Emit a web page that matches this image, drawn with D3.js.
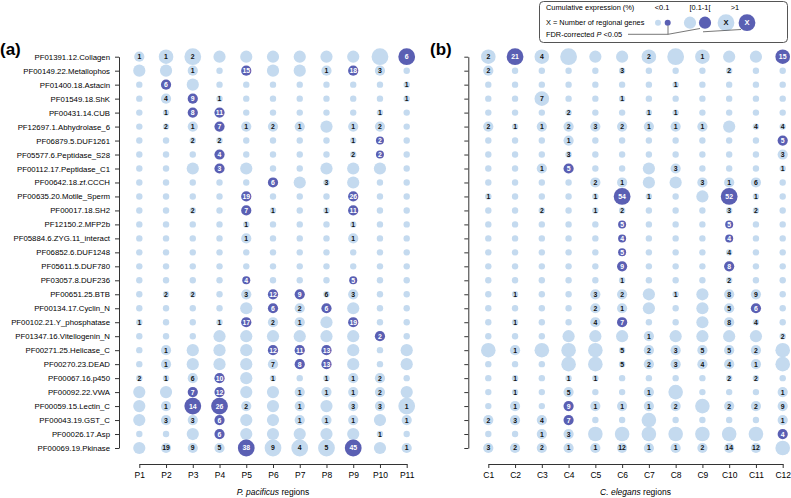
<!DOCTYPE html>
<html lang="en">
<head>
<meta charset="UTF-8">
<script src="https://d3js.org/d3.v7.min.js"></script>
<title></title>
<style>
  body { margin: 0; background: #fff; }
  text { font-family: "Liberation Sans", Arial, Helvetica, sans-serif; }
</style>
</head>
<body>
<div id="chart"></div>
<script>
// protein families (rows, top to bottom)
var families = ["PF01391.12.Collagen", "PF00149.22.Metallophos", "PF01400.18.Astacin", "PF01549.18.ShK",
  "PF00431.14.CUB", "PF12697.1.Abhydrolase_6", "PF06879.5.DUF1261", "PF05577.6.Peptidase_S28",
  "PF00112.17.Peptidase_C1", "PF00642.18.zf.CCCH", "PF00635.20.Motile_Sperm", "PF00017.18.SH2",
  "PF12150.2.MFP2b", "PF05884.6.ZYG.11_interact", "PF06852.6.DUF1248", "PF05611.5.DUF780",
  "PF03057.8.DUF236", "PF00651.25.BTB", "PF00134.17.Cyclin_N", "PF00102.21.Y_phosphatase",
  "PF01347.16.Vitellogenin_N", "PF00271.25.Helicase_C", "PF00270.23.DEAD", "PF00067.16.p450",
  "PF00092.22.VWA", "PF00059.15.Lectin_C", "PF00043.19.GST_C", "PF00026.17.Asp", "PF00069.19.Pkinase"];

var pRegions = ["P1", "P2", "P3", "P4", "P5", "P6", "P7", "P8", "P9", "P10", "P11"];
var cRegions = ["C1", "C2", "C3", "C4", "C5", "C6", "C7", "C8", "C9", "C10", "C11", "C12"];

// expression level (0 = <0.1 ... 4 = largest)
var pLevel = [
  [1,3,4,2,2,2,2,2,2,4,4],
  [2,2,1,0,1,2,2,1,1,1,0],
  [0,1,2,0,0,0,0,0,0,0,0],
  [0,1,1,0,0,0,0,0,0,0,0],
  [0,0,1,1,0,0,0,0,0,0,0],
  [0,0,1,1,1,1,1,2,1,1,0],
  [0,0,0,0,0,0,0,0,0,0,0],
  [0,0,0,1,0,0,0,0,0,0,0],
  [0,0,2,1,2,0,0,2,2,2,0],
  [0,0,0,0,0,1,2,0,2,0,0],
  [0,0,0,0,1,0,0,0,1,0,0],
  [0,0,0,0,1,0,0,0,1,0,0],
  [0,0,0,0,0,0,0,0,0,0,0],
  [0,0,0,0,1,0,0,0,1,0,0],
  [0,0,0,0,0,0,0,0,0,0,0],
  [0,0,0,0,0,0,0,0,0,0,0],
  [0,0,0,0,0,0,0,0,0,0,0],
  [0,0,0,0,1,1,1,0,1,0,0],
  [0,0,0,0,2,1,1,1,2,0,0],
  [0,0,0,0,1,1,1,2,1,0,0],
  [0,0,0,2,2,2,2,2,2,1,0],
  [0,1,2,2,2,1,1,1,2,0,2],
  [0,1,2,2,2,1,1,1,2,0,2],
  [0,0,1,1,2,0,0,0,1,1,0],
  [2,2,1,1,2,2,1,1,1,1,2],
  [2,1,4,4,1,2,1,2,1,1,4],
  [2,1,1,1,2,2,1,1,1,2,1],
  [0,0,2,1,2,2,2,2,2,0,0],
  [2,1,1,1,4,4,4,4,4,2,1]
];
// FDR-corrected P < 0.05
var pSig = [
  [0,0,0,0,0,0,0,0,0,0,1],
  [0,0,0,0,1,0,0,0,1,0,0],
  [0,1,0,0,0,0,0,0,0,0,0],
  [0,0,1,0,0,0,0,0,0,0,0],
  [0,0,1,1,0,0,0,0,0,0,0],
  [0,0,0,1,0,0,0,0,0,0,0],
  [0,0,0,0,0,0,0,0,0,1,0],
  [0,0,0,1,0,0,0,0,0,1,0],
  [0,0,0,1,0,0,0,0,0,0,0],
  [0,0,0,0,0,1,0,0,0,0,0],
  [0,0,0,0,1,0,0,0,1,0,0],
  [0,0,0,0,1,0,0,0,1,0,0],
  [0,0,0,0,0,0,0,0,0,0,0],
  [0,0,0,0,0,0,0,0,0,0,0],
  [0,0,0,0,0,0,0,0,0,0,0],
  [0,0,0,0,0,0,0,0,0,0,0],
  [0,0,0,0,1,0,0,0,1,0,0],
  [0,0,0,0,0,1,1,0,0,0,0],
  [0,0,0,0,0,1,0,1,0,0,0],
  [0,0,0,0,1,0,0,0,1,0,0],
  [0,0,0,0,0,0,0,0,0,1,0],
  [0,0,0,0,0,1,1,1,0,0,0],
  [0,0,0,0,0,0,1,1,0,0,0],
  [0,0,0,1,0,0,0,0,0,0,0],
  [0,0,1,1,0,0,0,0,0,0,0],
  [0,0,1,1,0,0,0,0,0,0,0],
  [0,0,0,1,0,0,0,0,0,0,0],
  [0,0,0,1,0,0,0,0,0,0,0],
  [0,0,0,0,1,0,0,0,1,0,0]
];
// number of regional genes (0 = not shown)
var pGenes = [
  [1,1,2,0,0,0,0,0,0,0,6],
  [0,0,1,0,15,0,0,1,18,3,0],
  [0,6,0,0,0,0,0,0,0,0,1],
  [0,4,9,1,0,0,0,0,0,0,1],
  [0,1,8,11,0,0,0,0,0,1,0],
  [0,2,1,7,1,2,1,0,1,2,0],
  [0,0,2,2,0,0,0,0,1,2,0],
  [0,0,0,4,0,0,0,0,2,2,0],
  [0,0,0,3,0,0,0,0,0,0,0],
  [0,0,0,0,0,6,0,3,0,0,0],
  [0,0,0,0,19,0,0,0,26,0,0],
  [0,0,2,0,7,1,0,1,11,0,0],
  [0,0,0,0,1,0,0,0,1,0,0],
  [0,0,0,0,1,0,0,0,1,0,0],
  [0,0,0,0,0,0,0,0,0,0,0],
  [0,0,0,0,0,0,0,0,0,0,0],
  [0,0,0,0,4,0,0,0,5,0,0],
  [0,2,2,0,3,12,9,6,3,0,0],
  [0,0,0,0,0,6,2,6,0,0,0],
  [1,0,0,1,17,2,1,0,19,0,0],
  [0,0,0,0,0,0,0,0,0,2,0],
  [0,1,0,0,0,12,11,13,0,0,0],
  [0,1,0,0,0,7,8,13,0,0,0],
  [2,1,6,10,0,1,0,1,1,2,0],
  [0,0,7,12,0,0,1,1,1,2,0],
  [0,1,14,26,2,0,1,0,3,3,1],
  [0,3,3,6,0,0,1,1,1,0,1],
  [0,0,0,6,0,0,0,0,0,1,0],
  [0,19,9,5,38,9,4,5,45,0,1]
];

var cLevel = [
  [3,4,3,4,2,2,3,4,3,2,2,3],
  [1,0,0,0,0,0,0,0,0,0,0,0],
  [0,0,0,0,0,0,0,0,0,0,0,0],
  [0,0,3,0,0,0,0,0,0,0,0,0],
  [0,0,0,0,0,0,0,0,0,0,0,0],
  [1,0,1,1,1,1,1,1,1,2,0,0],
  [0,0,0,1,0,0,0,0,0,0,0,1],
  [0,0,0,0,0,0,0,0,0,0,0,1],
  [0,0,1,1,0,0,2,1,0,0,0,0],
  [0,0,0,0,1,1,2,2,1,1,1,0],
  [0,0,0,0,0,4,0,0,2,4,0,0],
  [0,0,0,0,0,0,0,0,0,0,0,0],
  [0,0,0,0,0,0,0,0,0,0,0,0],
  [0,0,0,0,0,0,0,0,0,0,0,0],
  [0,0,0,0,0,0,0,0,0,0,0,0],
  [0,0,0,0,0,1,0,0,0,1,0,0],
  [0,0,0,0,0,0,0,0,0,0,0,0],
  [0,0,0,0,1,1,2,0,2,1,1,0],
  [0,0,0,0,1,1,2,0,2,1,1,0],
  [0,0,0,0,1,1,0,0,2,1,0,0],
  [0,0,0,2,2,2,1,2,2,2,2,0],
  [3,1,3,3,3,0,1,1,1,1,1,3],
  [0,0,0,3,3,0,1,1,1,1,1,3],
  [0,0,0,0,0,0,0,0,0,0,0,0],
  [0,0,0,1,0,0,1,3,0,0,0,1],
  [0,1,0,1,1,1,1,1,3,1,1,1],
  [1,1,1,1,0,0,3,0,0,0,0,1],
  [0,0,1,1,3,3,3,3,3,3,3,1],
  [1,1,1,1,1,1,1,1,1,1,1,3]
];
var cSig = [
  [0,1,0,0,0,0,0,0,0,0,0,1],
  [0,0,0,0,0,0,0,0,0,0,0,0],
  [0,0,0,0,0,0,0,0,0,0,0,0],
  [0,0,0,0,0,0,0,0,0,0,0,0],
  [0,0,0,0,0,0,0,0,0,0,0,0],
  [0,0,0,0,0,0,0,0,0,0,0,0],
  [0,0,0,0,0,0,0,0,0,0,0,1],
  [0,0,0,0,0,0,0,0,0,0,0,0],
  [0,0,0,1,0,0,0,0,0,0,0,0],
  [0,0,0,0,0,0,0,0,0,0,0,0],
  [0,0,0,0,0,1,0,0,0,1,0,0],
  [0,0,0,0,0,0,0,0,0,0,0,0],
  [0,0,0,0,0,1,0,0,0,1,0,0],
  [0,0,0,0,0,1,0,0,0,1,0,0],
  [0,0,0,0,0,1,0,0,0,0,0,0],
  [0,0,0,0,0,1,0,0,0,1,0,0],
  [0,0,0,0,0,0,0,0,0,0,0,0],
  [0,0,0,0,0,0,0,0,0,0,0,0],
  [0,0,0,0,0,0,0,0,0,0,1,0],
  [0,0,0,0,0,1,0,0,0,0,0,0],
  [0,0,0,0,0,0,0,0,0,0,0,0],
  [0,0,0,0,0,0,0,0,0,0,0,0],
  [0,0,0,0,0,0,0,0,0,0,0,0],
  [0,0,0,0,0,0,0,0,0,0,0,0],
  [0,0,0,0,0,0,0,0,0,0,0,0],
  [0,0,0,1,0,0,0,0,0,0,0,0],
  [0,0,0,1,0,0,0,0,0,0,0,0],
  [0,0,0,0,0,0,0,0,0,0,0,1],
  [0,0,0,0,0,0,0,0,0,0,0,0]
];
var cGenes = [
  [2,21,4,0,0,0,2,0,1,0,0,15],
  [2,0,0,0,0,3,0,0,0,2,0,0],
  [0,0,0,0,0,0,0,1,0,0,0,0],
  [0,0,7,0,0,1,0,0,0,0,0,0],
  [0,0,0,2,0,0,1,1,0,0,0,0],
  [2,1,1,2,3,2,1,1,1,0,4,4],
  [0,0,0,1,0,0,0,0,0,0,0,5],
  [0,0,0,3,0,0,0,0,0,0,0,3],
  [0,0,1,5,0,0,0,3,0,0,0,1],
  [0,0,0,0,2,1,0,0,3,1,6,0],
  [1,0,0,0,1,54,1,0,0,52,1,0],
  [0,0,2,0,1,2,0,0,0,3,2,0],
  [0,0,0,0,0,5,0,0,0,5,0,0],
  [0,0,0,0,0,4,0,0,0,4,0,0],
  [0,0,0,0,0,5,0,0,0,4,0,0],
  [0,0,0,0,0,9,0,0,0,8,0,0],
  [0,0,0,0,0,1,0,0,0,2,0,0],
  [0,1,0,0,3,2,0,1,0,8,9,0],
  [0,0,0,0,2,1,0,0,0,5,6,0],
  [0,1,0,0,4,7,0,0,0,8,4,0],
  [0,0,0,0,0,0,1,0,0,0,0,2],
  [0,1,0,0,0,5,2,3,5,5,2,0],
  [0,0,0,0,0,5,2,3,4,4,1,0],
  [0,1,0,1,1,0,0,0,0,2,2,0],
  [0,1,0,5,0,0,1,0,0,0,0,1],
  [0,1,0,9,1,1,1,2,0,2,2,9],
  [2,3,4,7,0,0,0,0,0,0,0,1],
  [0,0,1,3,0,0,0,0,0,0,0,4],
  [3,2,2,1,1,12,1,1,2,14,12,0]
];

var legendBins = ["<0.1", "[0.1-1[", ">1"];

// --- drawing ---
var light = "#c4daef", dark = "#5a5fb3", axisCol = "#333";
var radius = [3.2, 5.1, 6.1, 7.3, 8.4];

var svg = d3.select("#chart").append("svg")
    .attr("width", 791).attr("height", 498);

var y = d3.scalePoint().domain(families).range([56.7, 448]);

function drawPanel(regions, level, sig, genes, xRange, axisX, showLabels, tag, species) {
  var x = d3.scalePoint().domain(regions).range(xRange);
  var g = svg.append("g");

  // left axis
  var ya = g.append("g")
      .attr("transform", "translate(" + axisX + ",0)")
      .call(d3.axisLeft(y).tickSize(4).tickSizeOuter(0).tickPadding(5)
        .tickFormat(showLabels ? null : function () { return ""; }));
  ya.attr("font-family", null).attr("font-size", null);
  ya.selectAll("path,line").attr("stroke", axisCol);
  ya.selectAll("text").style("font-size", "7.8px").attr("fill", "#000");

  // bottom axis
  var xa = g.append("g")
      .attr("transform", "translate(0,464)")
      .call(d3.axisBottom(x).tickSize(4).tickSizeOuter(0).tickPadding(4));
  xa.attr("font-family", null).attr("font-size", null);
  xa.selectAll("path,line").attr("stroke", axisCol);
  xa.selectAll("text").style("font-size", "8.5px").attr("fill", "#000");

  // cells
  var cells = [];
  families.forEach(function (f, i) {
    regions.forEach(function (r, j) {
      cells.push({ fam: f, reg: r, lv: level[i][j], sig: sig[i][j], n: genes[i][j] });
    });
  });

  g.selectAll("circle.cell").data(cells).enter().append("circle")
      .attr("class", "cell")
      .attr("cx", function (d) { return x(d.reg); })
      .attr("cy", function (d) { return y(d.fam); })
      .attr("r", function (d) { return d.sig && d.lv === 0 ? 4 : radius[d.lv]; })
      .attr("fill", function (d) { return d.sig ? dark : light; });

  g.selectAll("text.num").data(cells.filter(function (d) { return d.n > 0; })).enter().append("text")
      .attr("class", "num")
      .attr("x", function (d) { return x(d.reg); })
      .attr("y", function (d) { return y(d.fam); })
      .attr("dy", "0.36em")
      .attr("text-anchor", "middle")
      .style("font-size", "6.9px")
      .style("font-weight", "bold")
      .attr("fill", function (d) { return d.sig ? "#fff" : "#111"; })
      .text(function (d) { return d.n; });

  // panel tag
  svg.append("text")
      .attr("x", tag.x).attr("y", 55)
      .style("font-size", "17px").style("font-weight", "bold")
      .text(tag.label);

  // axis title
  var t = svg.append("text")
      .attr("x", (xRange[0] + xRange[1]) / 2).attr("y", 495)
      .attr("text-anchor", "middle")
      .style("font-size", "8.5px");
  t.append("tspan").style("font-style", "italic").text(species);
  t.append("tspan").text(" regions");
}

drawPanel(pRegions, pLevel, pSig, pGenes, [139.3, 406.7], 119, true, { x: 0, label: "(a)" }, "P. pacificus");
drawPanel(cRegions, cLevel, cSig, cGenes, [488.3, 782.7], 468.3, false, { x: 430, label: "(b)" }, "C. elegans");

// legend
var lg = svg.append("g");
lg.append("rect")
    .attr("x", 539.5).attr("y", 1.5).attr("width", 248).attr("height", 41)
    .attr("rx", 4).attr("fill", "#fff").attr("stroke", "#555");

lg.append("text").attr("x", 546).attr("y", 9.8).style("font-size", "7.4px")
    .text("Cumulative expression (%)");
var binX = [662, 700, 735];
lg.selectAll("text.bin").data(legendBins).enter().append("text")
    .attr("class", "bin")
    .attr("x", function (d, i) { return binX[i]; }).attr("y", 9.8)
    .attr("text-anchor", "middle").style("font-size", "7.4px")
    .text(function (d) { return d; });

lg.append("text").attr("x", 546).attr("y", 25.3).style("font-size", "7.4px")
    .text("X = Number of regional genes");
var keys = [
  { x: 658, lv: 0, sig: 0 }, { x: 667.7, lv: 0, sig: 1 },
  { x: 690, lv: 2, sig: 0 }, { x: 705, lv: 2, sig: 1 },
  { x: 726, lv: 4, sig: 0, lab: "X" }, { x: 747, lv: 4, sig: 1, lab: "X" }
];
lg.selectAll("circle.key").data(keys).enter().append("circle")
    .attr("class", "key")
    .attr("cx", function (d) { return d.x; }).attr("cy", 22.7)
    .attr("r", function (d) { return d.lv === 0 ? 3 : radius[d.lv]; })
    .attr("fill", function (d) { return d.sig ? dark : light; });
lg.selectAll("text.keylab").data(keys.filter(function (d) { return d.lab; })).enter().append("text")
    .attr("class", "keylab")
    .attr("x", function (d) { return d.x; }).attr("y", 22.7).attr("dy", "0.36em")
    .attr("text-anchor", "middle").style("font-size", "7.5px").style("font-weight", "bold")
    .attr("fill", function (d) { return d.sig ? "#fff" : "#111"; })
    .text(function (d) { return d.lab; });

var fdr = lg.append("text").attr("x", 546).attr("y", 37).style("font-size", "7.4px");
fdr.append("tspan").text("FDR-corrected ");
fdr.append("tspan").style("font-style", "italic").text("P");
fdr.append("tspan").text(" <0.05");

lg.append("path")
    .attr("d", "M628,34.3H668V25.5M668,34.3L700,28.5M703,31.8L741,29.5")
    .attr("fill", "none").attr("stroke", "#555").attr("stroke-width", 0.8);
</script>
</body>
</html>
